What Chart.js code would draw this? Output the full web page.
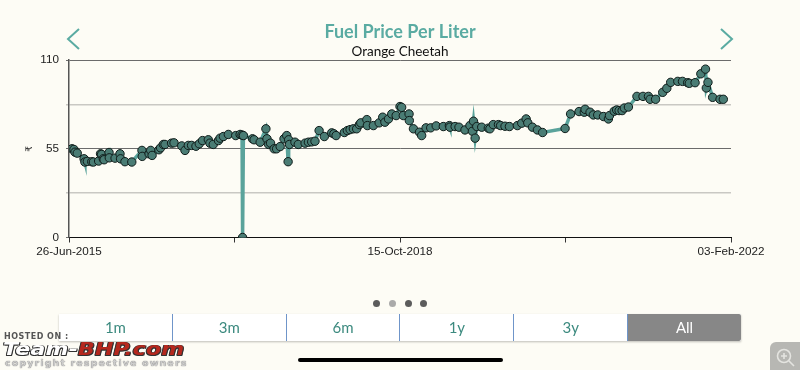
<!DOCTYPE html>
<html lang="en">
<head>
    <meta charset="UTF-8">
    <title>Fuel Price Per Liter</title>
    <script src="https://cdn.jsdelivr.net/npm/chart.js"></script>
    <style>
        html, body { margin: 0; padding: 0; width: 800px; height: 370px; overflow: hidden; background: #fdfcf5; }
        #chart { position: absolute; left: 0; top: 0; }
        .abs { position: absolute; }
        .dot { position: absolute; top: 300px; width: 7px; height: 7px; border-radius: 50%; background: #5c5c5c; }
        #buttons { position: absolute; left: 59px; top: 314px; width: 682px; height: 27px; display: flex; background: #fff; box-shadow: 0 1px 2px rgba(0,0,0,.25); font: 15px Lato, sans-serif; color: #3c8a7f; }
        #buttons div { flex: 1; text-align: center; line-height: 27px; border-left: 1px solid #6f95c9; }
        #buttons div:first-child { border-left: none; }
        #buttons div.on { background: #878787; color: #fff; border-radius: 0 2px 2px 0; }
        #hosted { left: 4px; top: 332px; font: bold 8px "DejaVu Sans", sans-serif; color: #555; letter-spacing: .5px; }
        #brand { left: 3px; top: 339px; font: italic bold 22px "DejaVu Sans", sans-serif; color: #fff; letter-spacing: .2px; white-space: nowrap; text-shadow: -1px -1px 0 #333, 1px -1px 0 #333, -1px 1px 0 #333, 1px 1px 0 #333; transform-origin: left top; transform: scaleY(.82); }
        #brand span { color: #b5281e; }
        #copy { left: 5px; top: 357px; font: bold 9.5px "DejaVu Sans", sans-serif; color: #ccc; letter-spacing: 1.1px; white-space: nowrap; text-shadow: 0 0 1px #444; }
        #homebar { left: 298px; top: 358px; width: 205px; height: 4px; border-radius: 2px; background: #000; }
        #zoomcorner { left: 770px; top: 342px; width: 30px; height: 28px; background: #b7b7b3; border-radius: 6px 0 0 0; }
    </style>
</head>
<body>
    <canvas id="chart" width="800" height="370"></canvas>

    <!-- arrows -->
    <svg class="abs" style="left:60px;top:22px" width="30" height="34"><polyline points="19,7 8,17 19,27" fill="none" stroke="#5aaba2" stroke-width="2"/></svg>
    <svg class="abs" style="left:712px;top:22px" width="30" height="34"><polyline points="9,7 20,17 9,27" fill="none" stroke="#5aaba2" stroke-width="2"/></svg>

    <!-- page dots -->
    <div class="dot" style="left:373px"></div>
    <div class="dot" style="left:389px;background:#aaa"></div>
    <div class="dot" style="left:405px"></div>
    <div class="dot" style="left:420px"></div>

    <div id="buttons">
        <div>1m</div><div>3m</div><div>6m</div><div>1y</div><div>3y</div><div class="on">All</div>
    </div>

    <div id="hosted" class="abs">HOSTED ON :</div>
    <div id="brand" class="abs">Team-<span>BHP.com</span></div>
    <div id="copy" class="abs">copyright respective owners</div>
    <div id="homebar" class="abs"></div>
    <div id="zoomcorner" class="abs">
        <svg width="30" height="28"><circle cx="14" cy="14" r="6.5" fill="none" stroke="#e4e4e0" stroke-width="1.6"/><path d="M11 14h6M14 11v6M19 19l5 5" stroke="#e4e4e0" stroke-width="1.6" fill="none"/></svg>
    </div>

    <script>
        // days since 26-Jun-2015
        const dayOffsets = [11,18,22,30,55,58,67,83,89,108,115,119,125,128,146,147,168,186,188,204,229,266,267,292,298,303,328,334,344,350,374,383,411,423,435,447,463,475,487,508,514,526,545,551,563,581,608,624,631,633,636,669,675,697,718,722,728,735,748,757,770,784,794,799,801,804,824,836,861,873,885,897,912,931,958,966,974,1004,1015,1025,1037,1049,1059,1064,1086,1088,1110,1131,1144,1152,1165,1177,1193,1207,1213,1219,1240,1241,1256,1278,1286,1302,1319,1339,1365,1387,1389,1408,1422,1444,1462,1471,1475,1481,1487,1505,1529,1535,1547,1566,1574,1590,1606,1635,1651,1667,1673,1690,1708,1727,1809,1829,1860,1879,1882,1900,1912,1928,1949,1967,1971,1988,1997,2006,2017,2025,2040,2071,2093,2113,2119,2139,2165,2180,2194,2220,2237,2256,2262,2283,2304,2321,2324,2330,2347,2374,2386];
        const fuelPrices = [55.0,54.6,52.9,52.3,48.8,46.8,47.2,47.0,46.8,47.4,51.9,51.5,48.8,48.2,52.7,49.4,49.2,51.9,48.8,47.0,46.8,54.0,50.3,51.9,54.0,50.9,54.4,55.6,57.7,57.7,58.5,58.7,56.8,54.0,57.1,57.1,56.6,58.1,60.1,60.6,58.5,57.7,60.1,61.6,62.6,63.9,63.2,63.9,63.5,0,63.2,61.2,60.6,59.1,67.4,61.2,57.7,58.5,55.0,55.0,56.4,61.2,63.2,47.0,60.6,57.7,59.1,57.7,58.5,59.1,59.3,59.7,66.3,62.6,64.9,64.3,63.2,65.1,66.3,66.9,67.4,67.4,70.0,71.1,73.1,69.4,69.4,71.1,74.6,71.5,73.5,76.6,75.6,81.2,80.7,75.6,76.6,72.5,67.4,65.3,63.2,68.0,68.0,69.2,68.8,69.4,68.4,68.8,68.4,66.7,69.4,65.9,72.1,61.6,68.8,68.4,67.8,67.4,70.0,70.0,69.4,69.0,68.8,69.4,70.9,73.5,71.1,68.4,66.7,65.1,67.6,76.6,78.1,77.7,79.5,77.7,76.0,76.0,75.0,73.5,75.6,78.3,79.1,78.7,78.7,80.3,80.9,87.5,87.5,87.5,85.7,85.7,90.0,92.5,96.2,96.8,96.8,96.0,95.6,96.0,101.5,104.4,92.7,96.2,86.9,85.7,85.7];
        const xTickLabels = ['26-Jun-2015', '', '15-Oct-2018', '', '03-Feb-2022'];
        const yTickLabels = ['0', '', '55', '', '110'];

        const totalDays = 2414;
        const points = dayOffsets.map((d, i) => ({ x: d, y: fuelPrices[i] }));

        new Chart(document.getElementById('chart').getContext('2d'), {
            type: 'line',
            data: {
                datasets: [{
                    data: points,
                    yAxisID: 'y',
                    borderColor: '#5aa39b',
                    borderWidth: 3.5,
                    borderJoinStyle: 'miter',
                    tension: 0,
                    pointRadius: 4.2,
                    pointBackgroundColor: '#4a7c74',
                    pointBorderColor: '#0f1b19',
                    pointBorderWidth: 1
                }]
            },
            options: {
                responsive: false,
                animation: false,
                layout: { padding: { left: 0, right: 0, top: 0, bottom: 107.5 } },
                plugins: {
                    legend: { display: false },
                    tooltip: { enabled: false },
                    title: {
                        display: true,
                        text: 'Fuel Price Per Liter',
                        color: '#5aaba2',
                        font: { family: 'Lato', size: 18, weight: '700' },
                        padding: { top: 21, bottom: 1.3 }
                    },
                    subtitle: {
                        display: true,
                        text: 'Orange Cheetah',
                        color: '#111',
                        font: { family: 'Lato', size: 13.5 },
                        padding: 0
                    }
                },
                scales: {
                    x: {
                        type: 'linear',
                        min: 0,
                        max: totalDays,
                        afterBuildTicks: (scale) => {
                            scale.ticks = xTickLabels.map((l, i) => ({ value: totalDays * i / 4 }));
                        },
                        afterFit: (scale) => { scale.height = 25; },
                        border: { color: '#111', width: 1 },
                        grid: { drawOnChartArea: false, color: '#333', tickLength: 5 },
                        ticks: {
                            autoSkip: false,
                            maxRotation: 0,
                            padding: 2,
                            color: '#222',
                            font: { family: 'Liberation Sans', size: 11.7 },
                            callback: (v, i) => xTickLabels[i]
                        }
                    },
                    y: {
                        min: 0,
                        max: 110,
                        afterBuildTicks: (scale) => {
                            scale.ticks = yTickLabels.map((l, i) => ({ value: 110 * i / 4 }));
                        },
                        afterFit: (scale) => { scale.width = 69; },
                        border: { color: '#555', width: 1.5 },
                        grid: {
                            color: (c) => c.index % 2 ? '#c9c8c3' : '#6b6b6b',
                            lineWidth: (c) => c.index % 2 ? 1.5 : 1,
                            tickLength: 3
                        },
                        title: {
                            display: true,
                            text: '₹',
                            color: '#222',
                            font: { family: 'DejaVu Sans', size: 9 },
                            padding: { top: 24, bottom: 0 }
                        },
                        ticks: {
                            autoSkip: false,
                            padding: 7,
                            color: '#222',
                            font: { family: 'Liberation Sans', size: 11.7 },
                            callback: (v, i) => yTickLabels[i]
                        }
                    },
                    // empty right margin, keeps the title centred on the page
                    yRight: {
                        position: 'right',
                        afterFit: (scale) => { scale.width = 69; },
                        border: { display: false },
                        grid: { display: false },
                        ticks: { display: false }
                    }
                }
            }
        });
    </script>
</body>
</html>
